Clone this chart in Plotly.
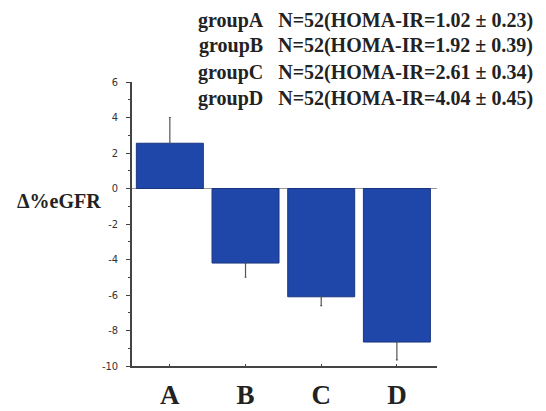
import plotly.graph_objects as go

# Change in eGFR (%) by HOMA-IR group
groups = ["A", "B", "C", "D"]
delta_egfr = [2.55, -4.2, -6.1, -8.65]
err_up = [1.45, 0, 0, 0]
err_down = [0, 0.8, 0.5, 1.0]

n_subjects = [52, 52, 52, 52]
homa_mean = ["1.02", "1.92", "2.61", "4.04"]
homa_sd = ["0.23", "0.39", "0.34", "0.45"]

y_ticks = [-10, -8, -6, -4, -2, 0, 2, 4, 6]

W, H = 546, 411
L, R, T, B = 132, 109, 82, 45
plot_w = W - L - R
plot_h = H - T - B

fig = go.Figure()
fig.add_trace(go.Bar(
    x=list(range(len(groups))),
    y=delta_egfr,
    width=0.885,
    marker=dict(color="#1f47aa", line=dict(color="#1a3580", width=1)),
    error_y=dict(type="data", symmetric=False, array=err_up, arrayminus=err_down,
                 color="#555555", thickness=1.2, width=1),
))

serif = "Liberation Serif, Times New Roman, serif"
gap = "\u00a0" * 3

annotations = []
line_px = [20, 46, 72, 98]
for g, n, m, s, ypx in zip(groups, n_subjects, homa_mean, homa_sd, line_px):
    annotations.append(dict(
        text=f"<b>group{g}{gap}N={n}(HOMA-IR={m}\u00a0\u00b1\u00a0{s})</b>",
        xref="paper", yref="paper",
        x=(535 - L) / plot_w, y=(H - B - ypx) / plot_h,
        xanchor="right", yanchor="middle", showarrow=False,
        font=dict(family=serif, size=20, color="#222222"),
    ))
annotations.append(dict(
    text="<b>\u0394%eGFR</b>", xref="paper", yref="paper",
    x=(59 - L) / plot_w, y=(H - B - 201) / plot_h,
    xanchor="center", yanchor="middle", showarrow=False,
    font=dict(family=serif, size=20, color="#222222"),
))

fig.update_layout(
    width=W, height=H,
    margin=dict(l=L, r=R, t=T, b=B),
    paper_bgcolor="white", plot_bgcolor="white",
    showlegend=False,
    annotations=annotations,
    xaxis=dict(
        range=[-0.5, 3.53],
        tickvals=list(range(len(groups))), ticktext=[f"<b>{g}</b>" for g in groups],
        tickfont=dict(family=serif, size=27, color="#222222"),
        showline=True, linecolor="#444444", linewidth=1.5,
        ticks="inside", ticklen=2, tickcolor="#444444",
        showgrid=False, zeroline=False,
        ticklabelstandoff=4, automargin=False,
    ),
    yaxis=dict(
        range=[-10, 6],
        tickvals=y_ticks, ticktext=[str(v) for v in y_ticks],
        tickfont=dict(family="Liberation Sans Narrow, DejaVu Sans Condensed, Arial, sans-serif",
                      size=11, color="#333333"),
        showline=True, linecolor="#444444", linewidth=1.5,
        ticks="outside", ticklen=4, tickcolor="#444444",
        minor=dict(dtick=1, ticks="outside", ticklen=2, tickcolor="#444444"),
        showgrid=False, automargin=False, ticklabelstandoff=6,
        zeroline=True, zerolinecolor="#999999", zerolinewidth=1,
    ),
)

fig.write_html("out.html")
